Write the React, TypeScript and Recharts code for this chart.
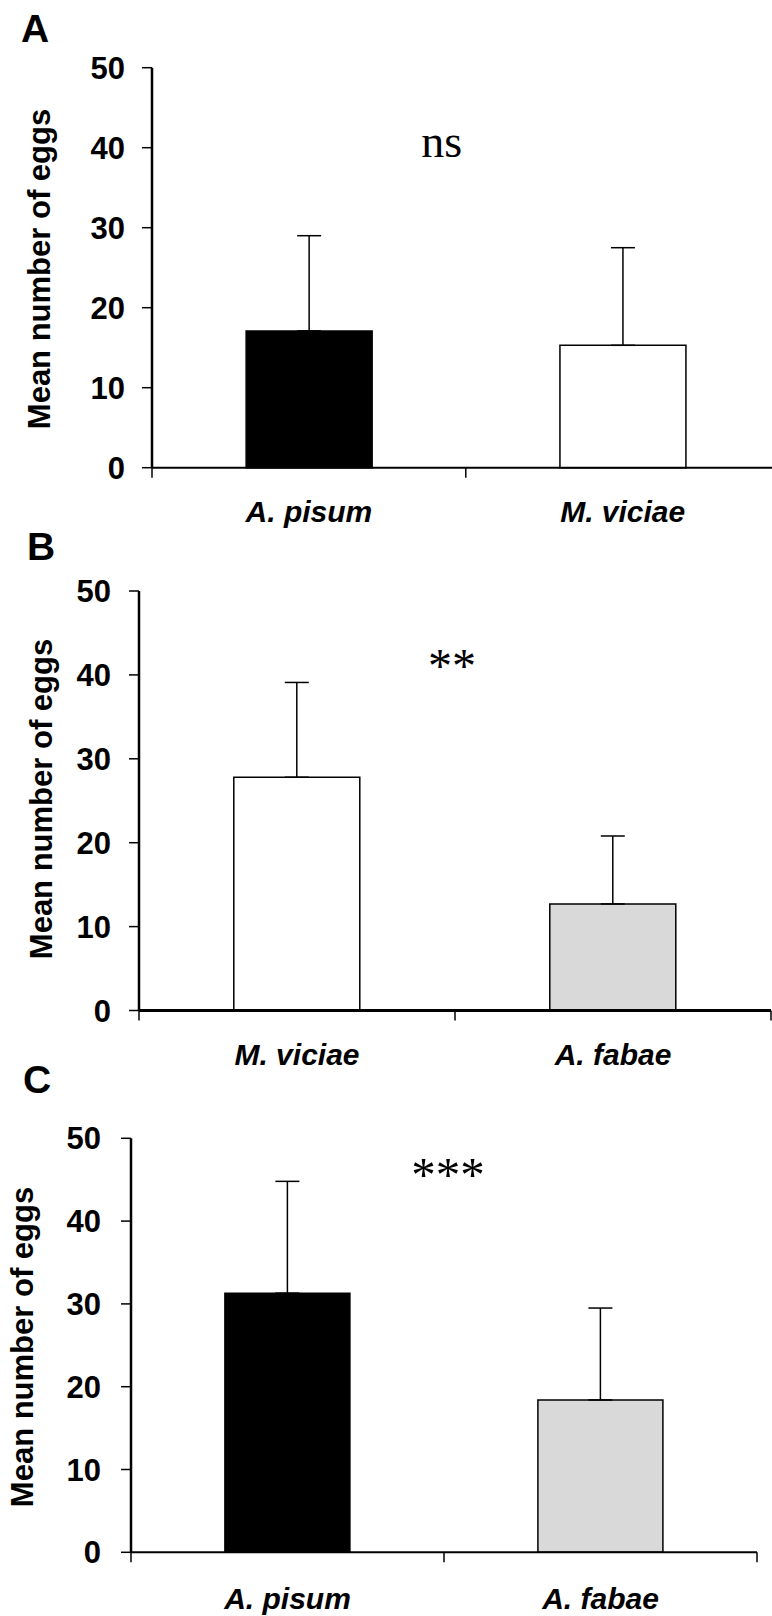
import { BarChart, Bar, XAxis, YAxis, Cell, ErrorBar } from 'recharts';

// panel A: A. pisum vs M. viciae
const speciesA = ['A. pisum', 'M. viciae'];
const meanA = [17.1, 15.3];
const seA = [11.9, 12.2];
const fillA = ['#000000', '#ffffff'];

// panel B: M. viciae vs A. fabae
const speciesB = ['M. viciae', 'A. fabae'];
const meanB = [27.8, 12.7];
const seB = [11.3, 8.1];
const fillB = ['#ffffff', '#d9d9d9'];

// panel C: A. pisum vs A. fabae
const speciesC = ['A. pisum', 'A. fabae'];
const meanC = [31.3, 18.4];
const seC = [13.5, 11.1];
const fillC = ['#000000', '#d9d9d9'];

const yTicks = [0, 10, 20, 30, 40, 50];
const yTitle = 'Mean number of eggs';
const panelLetters = ['A', 'B', 'C'];
const signif = ['ns', '**', '***'];

const SANS = '"Liberation Sans", Arial, Helvetica, sans-serif';
const SERIF = '"Liberation Serif", "Times New Roman", serif';

type PanelProps = {
    top: number;
    width: number;
    height: number;
    plotLeft: number;
    plotTop: number;
    plotBottom: number;
    plotRight: number;
    tickMargin: number;
    axisStroke: number;
    labelDrop: number;
    species: string[];
    means: number[];
    errs: number[];
    fills: string[];
};

function Panel(p: PanelProps) {
    const rows = p.species.map((name, i) => ({ name, mean: p.means[i], err: [0, p.errs[i]] }));
    const halfBand = (p.plotRight - p.plotLeft) / (2 * p.species.length);
    const last = p.species.length - 1;

    const SpeciesTick = (props: any) => {
        const { x, y, payload, index } = props;
        return (
            <g>
                <line x1={x - halfBand} x2={x - halfBand} y1={y} y2={y + 10} stroke="#000" strokeWidth={1.5} />
                {index === last && (
                    <line x1={x + halfBand} x2={x + halfBand} y1={y} y2={y + 10} stroke="#000" strokeWidth={1.5} />
                )}
                <text x={x} y={y + p.labelDrop} textAnchor="middle" fontFamily={SANS} fontSize={30} fontWeight={700} fontStyle="italic" fill="#000">
                    {payload.value}
                </text>
            </g>
        );
    };

    return (
        <div style={{ position: 'absolute', left: 0, top: p.top }}>
            <BarChart
                width={p.width}
                height={p.height}
                data={rows}
                barCategoryGap="30%"
                margin={{ top: p.plotTop - p.top, right: p.width - p.plotRight, bottom: 0, left: 0 }}
            >
                <XAxis
                    dataKey="name"
                    height={p.height - (p.plotBottom - p.top)}
                    axisLine={{ stroke: '#000', strokeWidth: p.axisStroke }}
                    tickLine={false}
                    tickSize={0}
                    tickMargin={0}
                    interval={0}
                    tick={<SpeciesTick />}
                />
                <YAxis
                    width={p.plotLeft}
                    domain={[0, 50]}
                    ticks={yTicks}
                    interval={0}
                    axisLine={{ stroke: '#000', strokeWidth: 2.5 }}
                    tickLine={{ stroke: '#000', strokeWidth: 1.5 }}
                    tickSize={10}
                    tickMargin={p.tickMargin}
                    tick={{ fill: '#000', fontSize: 31, fontWeight: 700, fontFamily: SANS }}
                />
                <Bar dataKey="mean" stroke="#000" strokeWidth={1.5} isAnimationActive={false}>
                    {rows.map((r, i) => (
                        <Cell key={`cell-${r.name}`} fill={p.fills[i]} />
                    ))}
                    <ErrorBar dataKey="err" direction="y" width={12} stroke="#000" strokeWidth={1.5} isAnimationActive={false} />
                </Bar>
            </BarChart>
        </div>
    );
}

export default function App() {
    return (
        <div style={{ position: 'absolute', left: 0, top: 0, width: 772, height: 1616, overflow: 'hidden', background: '#fff' }}>
            <Panel
                top={40} width={790} height={520}
                plotLeft={152} plotTop={67.7} plotBottom={467.7} plotRight={779.6}
                tickMargin={17} axisStroke={2} labelDrop={54}
                species={speciesA} means={meanA} errs={seA} fills={fillA}
            />
            <Panel
                top={560} width={772} height={540}
                plotLeft={139} plotTop={591} plotBottom={1010.5} plotRight={771}
                tickMargin={18} axisStroke={3} labelDrop={54}
                species={speciesB} means={meanB} errs={seB} fills={fillB}
            />
            <Panel
                top={1110} width={772} height={520}
                plotLeft={131} plotTop={1138.3} plotBottom={1552.3} plotRight={757}
                tickMargin={20} axisStroke={2} labelDrop={57}
                species={speciesC} means={meanC} errs={seC} fills={fillC}
            />
            <svg width={772} height={1616} style={{ position: 'absolute', left: 0, top: 0, pointerEvents: 'none' }}>
                <g fontFamily={SANS} fontWeight={700} fontSize={39} fill="#000">
                    <text x={21} y={42}>{panelLetters[0]}</text>
                    <text x={27} y={560}>{panelLetters[1]}</text>
                    <text x={23} y={1093}>{panelLetters[2]}</text>
                </g>
                <g fontFamily={SANS} fontWeight={700} fontSize={31} fill="#000" textAnchor="middle">
                    <text x={50} y={269} transform="rotate(-90 50 269)">{yTitle}</text>
                    <text x={51.7} y={799} transform="rotate(-90 51.7 799)">{yTitle}</text>
                    <text x={33.3} y={1347} transform="rotate(-90 33.3 1347)">{yTitle}</text>
                </g>
                <g fontFamily={SERIF} fill="#000" textAnchor="middle">
                    <text x={441.7} y={156.7} fontSize={46}>{signif[0]}</text>
                    <text x={452} y={682} fontSize={48}>{signif[1]}</text>
                    <text x={448} y={1191} fontSize={49}>{signif[2]}</text>
                </g>
            </svg>
        </div>
    );
}
